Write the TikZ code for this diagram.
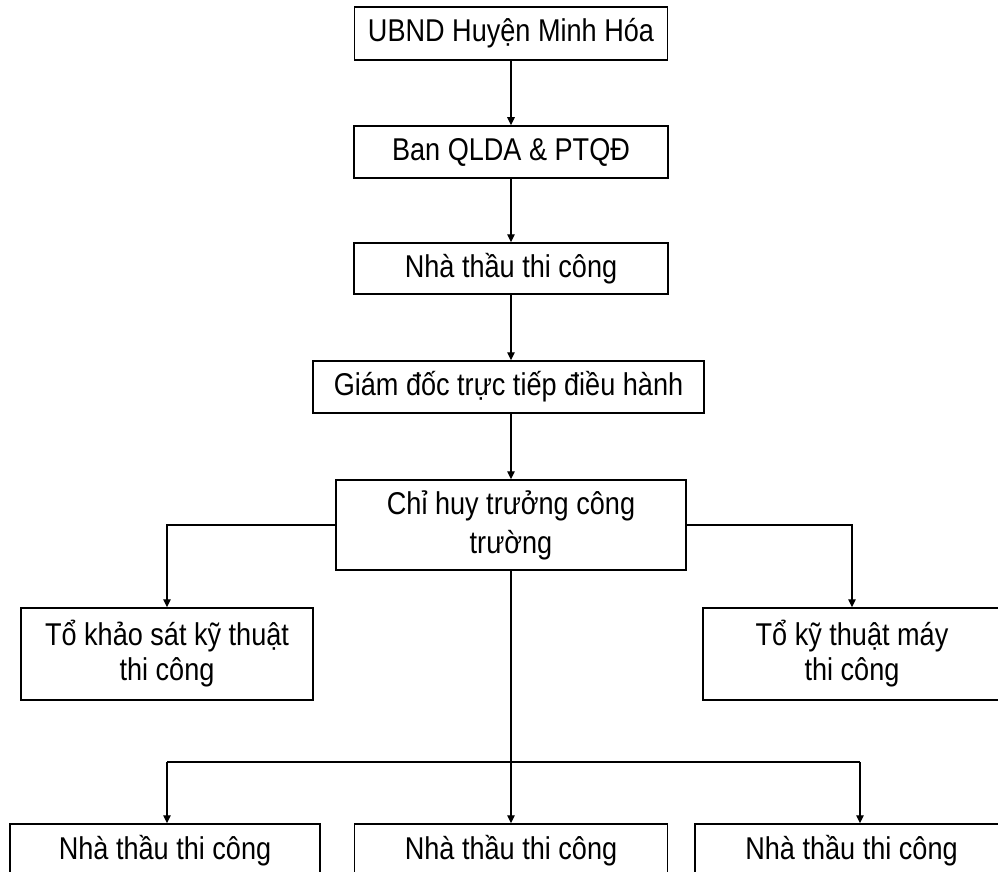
\documentclass[tikz,border=0pt]{standalone}
\usepackage{fontspec}
\newfontfamily\boxfont[FakeStretch=0.86]{Liberation Sans}
\usetikzlibrary{arrows.meta}
\begin{document}
\begin{tikzpicture}[x=1pt,y=-1pt,
  box/.style={draw, line width=1.5pt, align=center, inner sep=0pt,
    font={\boxfont\fontsize{31.5}{35}\selectfont}},
  arr/.style={line width=1.3pt, -{Triangle[length=8pt,width=7.5pt]}},
  ln/.style={line width=1.3pt}]
\useasboundingbox (0,0) rectangle (998,872);
\clip (0,0) rectangle (998,872);
\fill[white] (0,0) rectangle (998,872);
\node[box, minimum width=313pt, minimum height=53pt] (n1) at (511,33.5) {UBND Huyện Minh Hóa};
\node[box, minimum width=314pt, minimum height=52pt] (n2) at (511,152) {Ban QLDA \& PTQĐ};
\node[box, minimum width=314pt, minimum height=51pt] (n3) at (511,268.5) {Nhà thầu thi công};
\node[box, minimum width=391pt, minimum height=52pt] (n4) at (508.5,387) {Giám đốc trực tiếp điều hành};
\node[box, minimum width=350pt, minimum height=90pt, font={\boxfont\fontsize{31.5}{39}\selectfont}] (n5) at (511,525) {Chỉ huy trưởng công\\trường};
\node[box, minimum width=292pt, minimum height=92pt] (n6) at (167,654) {Tổ khảo sát kỹ thuật\\thi công};
\node[box, minimum width=298pt, minimum height=92pt] (n7) at (852,654) {Tổ kỹ thuật máy\\thi công};
\node[box, minimum width=310pt, minimum height=54pt] (b1) at (165,851) {Nhà thầu thi công};
\node[box, minimum width=313pt, minimum height=54pt] (b2) at (511,851) {Nhà thầu thi công};
\node[box, minimum width=313pt, minimum height=54pt] (b3) at (851.5,851) {Nhà thầu thi công};
\draw[arr] (n1.south) -- (n1.south |- n2.north);
\draw[arr] (n2.south) -- (n2.south |- n3.north);
\draw[arr] (n3.south) -- (n3.south |- n4.north);
\draw[arr] (n5.north |- n4.south) -- (n5.north);
\draw[arr] (n5.west) -- (n6.north |- n5.west) -- (n6.north);
\draw[arr] (n5.east) -- (n7.north |- n5.east) -- (n7.north);
\draw[arr] (n5.south) -- (n5.south |- b2.north);
\coordinate (jl) at (167,762);
\coordinate (jr) at (860,762);
\draw[ln] (jl) -- (jr);
\draw[arr] (jl) -- (jl |- b1.north);
\draw[arr] (jr) -- (jr |- b3.north);
\end{tikzpicture}
\end{document}
